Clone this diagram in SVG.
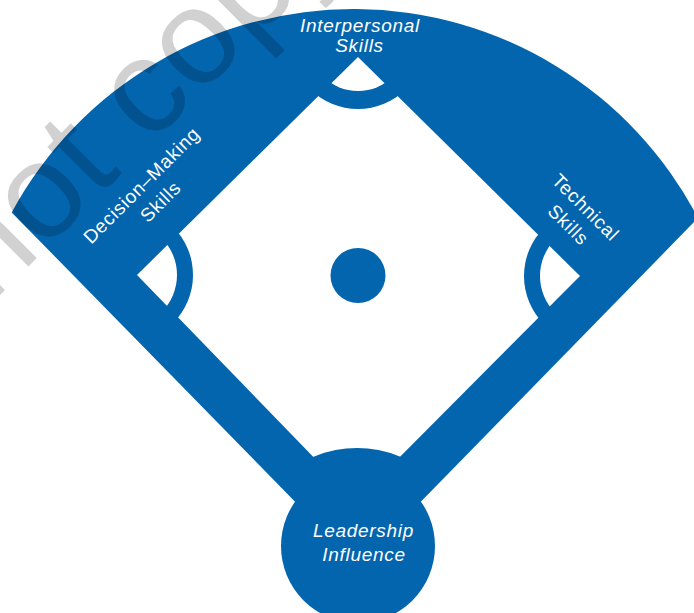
<svg xmlns="http://www.w3.org/2000/svg" width="694" height="613" viewBox="0 0 694 613">
  <defs>
    <style>
      .blue { fill: #0265AE; }
      .white { fill: #FFFFFF; }
      .lbl { font-family: "Liberation Sans", Arial, sans-serif; font-size: 19px; fill: #FFFFFF; letter-spacing: 0.7px; text-anchor: middle; }
      .it { font-style: italic; }
      .wm { font-family: "Liberation Sans", Arial, sans-serif; font-size: 135px; fill: #000000; fill-opacity: 0.18; }
    </style>
    <clipPath id="diamondClip">
      <polygon points="358,57 580,276 356,501 137,275"/>
    </clipPath>
    <clipPath id="diamondClipWide">
      <polygon points="358,53.5 583.5,276 356,504.5 133.5,275"/>
    </clipPath>
  </defs>

  <g id="field">
    <path class="blue" d="M358,566 L11.7,212.4 A388.7,388.7 0 0 1 698,218 Z"/>
    <circle class="blue" cx="358" cy="546" r="77"/>
  </g>

  <g id="diamond">
    <polygon class="white" points="358,57 580,276 356,501 137,275"/>
    <g clip-path="url(#diamondClipWide)">
      <circle class="blue" cx="357" cy="558" r="110"/>
      <circle class="blue" cx="358" cy="41" r="68"/>
      <circle class="blue" cx="125" cy="275" r="68"/>
      <circle class="blue" cx="592" cy="276" r="68"/>
    </g>
    <g clip-path="url(#diamondClip)">
      <circle class="white" cx="358" cy="41" r="50"/>
      <circle class="white" cx="125" cy="275" r="52"/>
      <circle class="white" cx="592" cy="276" r="52"/>
    </g>
    <circle id="mound" class="blue" cx="358" cy="275.5" r="27.5"/>
  </g>

  <g id="node-interpersonal">
    <text class="lbl it" x="360" y="31.7">Interpersonal</text>
    <text class="lbl it" x="359.5" y="51.7">Skills</text>
  </g>

  <g id="node-decision" transform="translate(146,190) rotate(-45)">
    <text class="lbl" x="0" y="0">Decision–Making</text>
    <text class="lbl" x="2" y="25">Skills</text>
  </g>

  <g id="node-technical" transform="translate(581,212) rotate(45)">
    <text class="lbl" x="0" y="0">Technical</text>
    <text class="lbl" x="0" y="24.5">Skills</text>
  </g>

  <g id="node-leadership">
    <text class="lbl it" x="363.5" y="537">Leadership</text>
    <text class="lbl it" x="364" y="561">Influence</text>
  </g>

  <g id="connectors"></g>

  <text class="wm" transform="translate(-10,305) rotate(-45)" x="0" y="0">not copy</text>
</svg>
